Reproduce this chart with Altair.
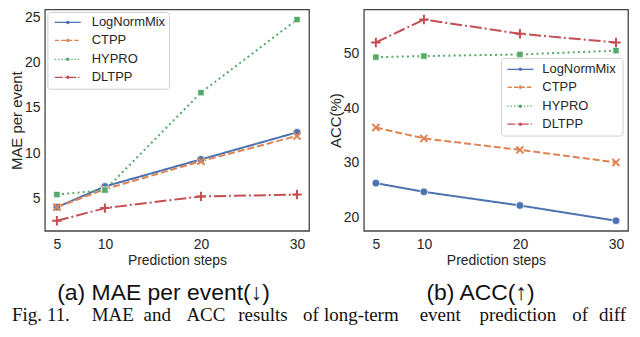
import altair as alt
import pandas as pd

# ---------------- data ----------------
steps = [5, 10, 20, 30]
models = ["LogNormMix", "CTPP", "HYPRO", "DLTPP"]

mae_lognormmix = [4.0, 6.3, 9.3, 12.3]
mae_ctpp = [4.0, 6.0, 9.1, 11.9]
mae_hypro = [5.4, 5.9, 16.7, 24.8]
mae_dltpp = [2.5, 3.9, 5.2, 5.4]

acc_lognormmix = [26.3, 24.7, 22.2, 19.4]
acc_ctpp = [36.5, 34.5, 32.4, 30.1]
acc_hypro = [49.4, 49.6, 49.9, 50.6]
acc_dltpp = [52.1, 56.3, 53.7, 52.1]

mae_ticks = [5, 10, 15, 20, 25]
acc_ticks = [20, 30, 40, 50]

caption_a = "(a) MAE per event(\u2193)"
caption_b = "(b) ACC(\u2191)"
fig_words = ["Fig.", "11.", "MAE", "and", "ACC", "results", "of", "long-term",
             "event", "prediction", "of", "different"]

# ---------------- styles ----------------
colors = ["#4C72B0", "#DD8452", "#55A868", "#C44E52"]
dashes = [[1, 0], [7, 3], [2, 3.2], [12, 3, 2, 3]]
leg_dashes = [[1, 0], [4.5, 2], [1.3, 2], [8, 2, 1.3, 2]]
shapes = ["circle", "M-1,-1L1,1M-1,1L1,-1", "square", "M-1,0H1M0,-1V1"]
msizes = [60, 50, 40, 90]
filled = [True, False, True, False]
FONT = "Liberation Sans"
SERIF = "Liberation Serif"
TXT = "#262626"
W, H = 265, 222

fig_word_x = [8, 43, 88, 140, 183, 235, 300, 321, 417, 477, 570, 597]

one = pd.DataFrame({"k": [0]})


def make_df(series):
    rows = []
    for m, vals in zip(models, series):
        for s, v in zip(steps, vals):
            rows.append({"model": m, "step": s, "value": v})
    return pd.DataFrame(rows)


def panel(series, ytitle, yticks, leg, caption, cap_x, extra=None):
    df = make_df(series)
    allv = [v for vals in series for v in vals]
    lo, hi = min(allv), max(allv)
    pad = 0.05 * (hi - lo)
    xenc = alt.X("step:Q",
                 scale=alt.Scale(domain=[3.75, 31.25], nice=False, zero=False),
                 axis=alt.Axis(values=steps, title="Prediction steps", format="d",
                               labelPadding=7, titlePadding=2, titleFontSize=14))
    yenc = alt.Y("value:Q",
                 scale=alt.Scale(domain=[lo - pad, hi + pad], nice=False, zero=False),
                 axis=alt.Axis(values=yticks, title=ytitle, format="d",
                               labelPadding=5, titlePadding=0, titleFontSize=15))
    lines = alt.Chart(df).mark_line(strokeWidth=2).encode(
        x=xenc, y=yenc,
        color=alt.Color("model:N", scale=alt.Scale(domain=models, range=colors), legend=None),
        strokeDash=alt.StrokeDash("model:N", scale=alt.Scale(domain=models, range=dashes), legend=None),
    )
    layers = [lines]
    for m, c, sh, sz, f in zip(models, colors, shapes, msizes, filled):
        if f:
            mk = alt.Chart(df).transform_filter(alt.datum.model == m).mark_point(
                shape=sh, size=sz, filled=True, fill=c, stroke="white",
                strokeWidth=0.7, opacity=1)
        else:
            mk = alt.Chart(df).transform_filter(alt.datum.model == m).mark_point(
                shape=sh, size=sz, filled=False, stroke=c, strokeWidth=2, opacity=1)
        layers.append(mk.encode(x=xenc, y=yenc))

    # legend (drawn manually to match matplotlib look)
    bx0, bx1, by0, by1, lx0, lx1, tx, rows = leg
    layers.append(alt.Chart(one).mark_rect(
        fill="white", fillOpacity=0.85, stroke="#cfcfcf", strokeWidth=1,
        cornerRadius=3).encode(x=alt.value(bx0), x2=alt.value(bx1),
                               y=alt.value(by0), y2=alt.value(by1)))
    for m, c, d, ry in zip(models, colors, leg_dashes, rows):
        layers.append(alt.Chart(one).mark_rule(
            color=c, strokeWidth=1.3, strokeDash=d).encode(
            x=alt.value(lx0), x2=alt.value(lx1), y=alt.value(ry)))
        layers.append(alt.Chart(one).mark_point(
            shape="circle", size=12, filled=True, color=c, opacity=1).encode(
            x=alt.value((lx0 + lx1) / 2), y=alt.value(ry)))
        layers.append(alt.Chart(one).mark_text(
            align="left", baseline="middle", fontSize=13, font=FONT, color=TXT).encode(
            x=alt.value(tx), y=alt.value(ry), text=alt.value(m)))

    # sub-caption
    layers.append(alt.Chart(one).mark_text(
        align="center", baseline="alphabetic", fontSize=23, font=FONT, color="#111111").encode(
        x=alt.value(cap_x), y=alt.value(291), text=alt.value(caption)))
    if extra:
        layers.extend(extra)
    return alt.layer(*layers).properties(width=W, height=H)


fig_layers = []
for w, px in zip(fig_words, fig_word_x):
    fig_layers.append(alt.Chart(one).mark_text(
        align="left", baseline="alphabetic", fontSize=19, font=SERIF, color="#111111",
        limit=max(10, 632 - px), ellipsis=" ").encode(
        x=alt.value(px - 41), y=alt.value(312), text=alt.value(w)))

left = panel([mae_lognormmix, mae_ctpp, mae_hypro, mae_dltpp], "MAE per event", mae_ticks,
             (3, 125, 3, 80, 10, 36, 47, [13, 31, 50, 68]), caption_a, 119, fig_layers)
right = panel([acc_lognormmix, acc_ctpp, acc_hypro, acc_dltpp], "ACC(%)", acc_ticks,
              (138, 260, 49, 127, 144, 170, 179, [60, 78, 97, 115]), caption_b, 117)

chart = alt.hconcat(left, right, spacing=55, bounds="flush").properties(
    padding={"left": 0, "top": 0, "right": 0, "bottom": 0}
).configure(font=FONT).configure_view(
    stroke="#444444", strokeWidth=1.3
).configure_axis(
    grid=False, domain=False, ticks=False, tickSize=0,
    labelFont=FONT, labelFontSize=14, labelColor=TXT,
    titleFont=FONT, titleColor=TXT, titleFontWeight="normal",
)

chart.save("out.html", embed_options={"renderer": "svg", "actions": False})
